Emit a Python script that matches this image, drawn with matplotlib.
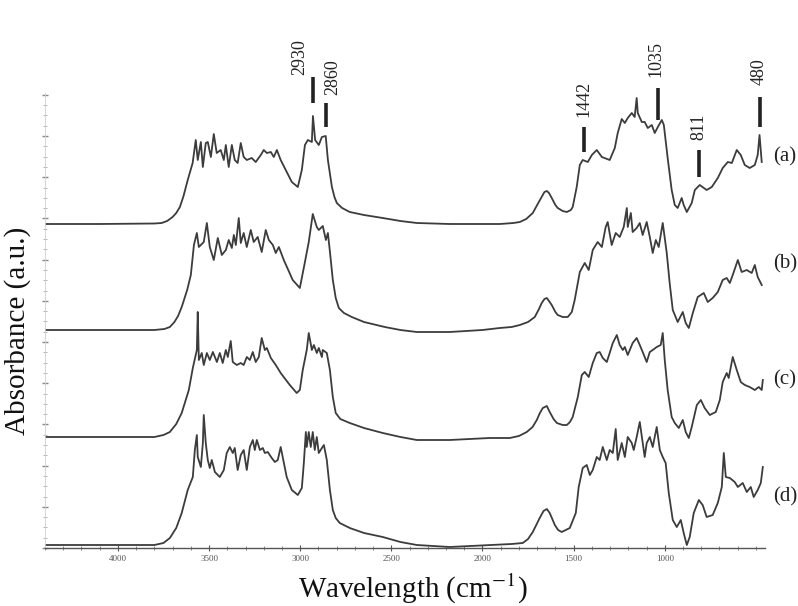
import numpy as np
import matplotlib.pyplot as plt
from matplotlib.ticker import MultipleLocator, FixedLocator

plt.rcParams['font.family'] = ['Liberation Serif', 'DejaVu Serif']
plt.rcParams['mathtext.fontset'] = 'stix'

# FTIR spectra, wavenumber (cm-1) vs absorbance above each trace's own baseline
wn_a = [4400, 4100, 3800, 3760, 3730, 3700, 3680, 3660, 3640, 3617, 3590, 3573, 3562, 3545, 3534,
        3518, 3507, 3490, 3474, 3458, 3436, 3419, 3408, 3392, 3375, 3359, 3343, 3326, 3310, 3293,
        3266, 3244, 3216, 3200, 3183, 3161, 3145, 3128, 3107, 3079, 3046, 3013, 2991, 2974, 2958,
        2936, 2930, 2918, 2898, 2881, 2860, 2848, 2826, 2812, 2799, 2770, 2728, 2650, 2547, 2450,
        2360, 2180, 2000, 1905, 1830, 1795, 1760, 1724, 1700, 1675, 1660, 1647, 1635, 1620, 1600,
        1587, 1560, 1537, 1515, 1505, 1483, 1466, 1450, 1422, 1400, 1373, 1345, 1302, 1274, 1258,
        1236, 1219, 1203, 1181, 1165, 1154, 1148, 1126, 1110, 1093, 1071, 1055, 1038, 1016, 1005,
        984, 962, 945, 929, 907, 896, 879, 852, 835, 808, 770, 742, 709, 682, 654, 632, 605, 583,
        561, 534, 506, 490, 480, 468]
abs_a = [0.0, 0.0, 0.005, 0.01, 0.03, 0.07, 0.11, 0.17, 0.28, 0.44, 0.61, 0.84, 0.64, 0.82, 0.57,
         0.81, 0.82, 0.67, 0.90, 0.71, 0.74, 0.64, 0.79, 0.57, 0.79, 0.64, 0.61, 0.81, 0.67, 0.64,
         0.66, 0.62, 0.69, 0.74, 0.71, 0.72, 0.67, 0.74, 0.64, 0.54, 0.42, 0.37, 0.54, 0.79, 0.84,
         0.82, 1.08, 0.84, 0.79, 0.87, 0.88, 0.64, 0.37, 0.27, 0.21, 0.16, 0.12, 0.09, 0.06, 0.03,
         0.01, 0.0, 0.0, 0.0, 0.01, 0.02, 0.05, 0.11, 0.19, 0.27, 0.32, 0.33, 0.31, 0.26, 0.19,
         0.16, 0.13, 0.12, 0.14, 0.17, 0.37, 0.59, 0.64, 0.62, 0.69, 0.74, 0.67, 0.64, 0.76, 0.91,
         1.05, 1.01, 1.06, 1.11, 1.07, 1.26, 1.11, 1.02, 1.02, 0.96, 0.99, 0.91, 0.97, 1.04, 0.99,
         0.66, 0.34, 0.19, 0.16, 0.26, 0.19, 0.12, 0.21, 0.34, 0.39, 0.34, 0.37, 0.46, 0.56, 0.62,
         0.61, 0.74, 0.69, 0.59, 0.56, 0.59, 0.69, 0.89, 0.62]

wn_b = [4400, 3800, 3745, 3715, 3690, 3670, 3650, 3620, 3600, 3583, 3567, 3556, 3529, 3512, 3496,
        3474, 3452, 3430, 3408, 3392, 3375, 3364, 3353, 3337, 3326, 3310, 3293, 3271, 3255, 3233,
        3211, 3189, 3172, 3150, 3134, 3117, 3090, 3041, 3002, 2975, 2953, 2931, 2909, 2898, 2876,
        2859, 2848, 2835, 2821, 2805, 2788, 2760, 2717, 2650, 2536, 2450, 2360, 2180, 2000, 1905,
        1840, 1795, 1750, 1713, 1690, 1675, 1660, 1647, 1635, 1620, 1600, 1587, 1560, 1532, 1510,
        1494, 1466, 1439, 1417, 1395, 1368, 1345, 1324, 1313, 1291, 1269, 1247, 1225, 1208, 1203,
        1186, 1176, 1154, 1137, 1121, 1099, 1082, 1066, 1049, 1033, 1011, 989, 973, 956, 929, 901,
        885, 868, 846, 819, 786, 764, 737, 709, 682, 660, 643, 627, 599, 578, 550, 523, 506, 490,
        468]
abs_b = [0.0, 0.0, 0.01, 0.03, 0.08, 0.14, 0.23, 0.40, 0.55, 0.85, 0.97, 0.83, 0.88, 1.07, 0.83,
         0.70, 0.92, 0.75, 0.80, 0.90, 0.82, 0.95, 0.85, 1.12, 0.87, 0.97, 0.83, 1.00, 0.88, 0.93,
         0.78, 1.00, 0.90, 0.85, 0.77, 0.83, 0.70, 0.50, 0.42, 0.67, 0.88, 1.16, 1.03, 1.00, 1.04,
         0.90, 0.97, 0.75, 0.50, 0.32, 0.22, 0.17, 0.13, 0.08, 0.03, 0.0, -0.02, -0.02, 0.0, 0.02,
         0.03, 0.05, 0.08, 0.13, 0.21, 0.27, 0.31, 0.32, 0.29, 0.25, 0.18, 0.15, 0.13, 0.13, 0.18,
         0.30, 0.58, 0.67, 0.60, 0.80, 0.88, 0.83, 1.03, 1.08, 0.85, 0.97, 0.93, 1.03, 1.22, 1.03,
         1.17, 0.98, 1.02, 1.07, 0.95, 1.08, 0.93, 0.77, 0.90, 0.83, 1.07, 0.77, 0.47, 0.20, 0.08,
         0.18, 0.07, 0.02, 0.17, 0.33, 0.37, 0.28, 0.32, 0.38, 0.50, 0.52, 0.47, 0.55, 0.70, 0.58,
         0.60, 0.57, 0.65, 0.53, 0.45]

wn_c = [4400, 3800, 3750, 3715, 3680, 3650, 3611, 3589, 3567, 3562, 3556, 3540, 3529, 3512, 3496,
        3479, 3457, 3441, 3425, 3408, 3397, 3381, 3370, 3348, 3326, 3310, 3293, 3276, 3260, 3244,
        3227, 3211, 3194, 3183, 3161, 3134, 3107, 3057, 3019, 3002, 2986, 2964, 2953, 2936, 2925,
        2909, 2898, 2881, 2876, 2854, 2837, 2821, 2805, 2780, 2728, 2650, 2547, 2450, 2360, 2180,
        1960, 1850, 1800, 1757, 1725, 1702, 1685, 1669, 1647, 1631, 1610, 1592, 1560, 1537, 1520,
        1505, 1477, 1455, 1439, 1417, 1395, 1373, 1357, 1340, 1318, 1302, 1285, 1263, 1247, 1230,
        1219, 1203, 1176, 1154, 1137, 1121, 1099, 1082, 1066, 1044, 1022, 1011, 1000, 984, 962, 945,
        923, 901, 885, 868, 852, 824, 802, 781, 753, 720, 698, 682, 660, 649, 627, 605, 583, 561,
        534, 506, 484, 468, 462]
abs_c = [0.0, 0.0, 0.02, 0.05, 0.13, 0.24, 0.47, 0.69, 0.87, 1.25, 0.77, 0.84, 0.72, 0.84, 0.77,
         0.85, 0.75, 0.84, 0.74, 0.87, 0.80, 0.96, 0.75, 0.72, 0.74, 0.72, 0.80, 0.77, 0.85, 0.75,
         0.80, 0.99, 0.87, 0.89, 0.79, 0.72, 0.64, 0.52, 0.44, 0.47, 0.67, 0.87, 1.04, 0.87, 0.92,
         0.84, 0.89, 0.80, 0.87, 0.84, 0.67, 0.40, 0.24, 0.18, 0.14, 0.09, 0.04, 0.0, -0.03, -0.03,
         -0.01, -0.01, 0.01, 0.05, 0.10, 0.17, 0.24, 0.29, 0.31, 0.25, 0.18, 0.14, 0.12, 0.12, 0.15,
         0.20, 0.40, 0.62, 0.65, 0.60, 0.74, 0.84, 0.85, 0.79, 0.75, 0.84, 0.94, 1.02, 0.92, 0.87,
         0.90, 0.82, 0.94, 0.99, 0.92, 0.85, 0.75, 0.85, 0.87, 0.90, 0.92, 1.04, 0.77, 0.47, 0.20,
         0.14, 0.09, 0.17, 0.05, -0.01, 0.10, 0.32, 0.37, 0.29, 0.22, 0.25, 0.37, 0.55, 0.64, 0.59,
         0.80, 0.67, 0.55, 0.52, 0.50, 0.47, 0.50, 0.47, 0.57]

wn_d = [4400, 3800, 3750, 3715, 3680, 3650, 3617, 3589, 3578, 3567, 3562, 3545, 3534, 3529, 3518,
        3507, 3496, 3485, 3468, 3441, 3419, 3403, 3386, 3370, 3359, 3343, 3326, 3310, 3293, 3276,
        3260, 3249, 3238, 3221, 3205, 3194, 3178, 3156, 3139, 3123, 3107, 3095, 3074, 3046, 3013,
        2991, 2980, 2969, 2964, 2953, 2942, 2931, 2920, 2909, 2898, 2881, 2870, 2854, 2837, 2821,
        2805, 2783, 2728, 2650, 2547, 2450, 2360, 2180, 1960, 1840, 1779, 1750, 1724, 1705, 1686,
        1665, 1647, 1631, 1615, 1603, 1585, 1565, 1521, 1488, 1472, 1450, 1428, 1411, 1395, 1373,
        1357, 1340, 1318, 1302, 1285, 1269, 1258, 1236, 1219, 1203, 1181, 1170, 1154, 1137, 1121,
        1110, 1099, 1082, 1066, 1044, 1027, 1011, 995, 978, 956, 934, 912, 896, 879, 863, 841, 813,
        792, 770, 737, 709, 687, 676, 665, 643, 616, 599, 572, 550, 528, 512, 490, 473, 462]
abs_d = [0.0, 0.0, 0.02, 0.07, 0.17, 0.32, 0.55, 0.68, 0.95, 1.10, 0.88, 0.78, 1.02, 1.30, 1.02,
         0.85, 0.77, 0.85, 0.73, 0.68, 0.75, 0.92, 0.98, 0.92, 0.97, 0.75, 0.90, 0.95, 0.75, 0.98,
         1.05, 0.95, 1.05, 0.95, 0.97, 0.92, 0.93, 0.87, 0.83, 0.85, 0.98, 0.87, 0.68, 0.55, 0.50,
         0.57, 0.82, 1.13, 0.98, 1.13, 0.98, 1.13, 0.95, 1.08, 0.92, 0.97, 1.00, 0.85, 0.55, 0.35,
         0.27, 0.22, 0.17, 0.12, 0.08, 0.03, 0.0, -0.02, 0.0, 0.01, 0.02, 0.06, 0.13, 0.20, 0.27,
         0.34, 0.36, 0.32, 0.25, 0.20, 0.15, 0.13, 0.17, 0.32, 0.58, 0.77, 0.80, 0.70, 0.75, 0.88,
         0.85, 0.98, 0.85, 0.95, 0.92, 1.16, 0.85, 1.02, 0.88, 1.08, 1.02, 0.95, 1.08, 1.23, 1.02,
         0.88, 1.02, 1.08, 0.98, 1.18, 0.95, 0.88, 0.82, 0.52, 0.25, 0.18, 0.25, 0.12, 0.0, 0.08,
         0.32, 0.45, 0.40, 0.28, 0.30, 0.42, 0.58, 0.92, 0.68, 0.67, 0.63, 0.58, 0.62, 0.53, 0.58,
         0.48, 0.55, 0.62, 0.78]

samples = ['(a)', '(b)', '(c)', '(d)']
offsets = [3.24, 2.18, 1.11, 0.03]
label_y = [3.91, 2.84, 1.68, 0.51]

# assigned bands marked over trace (a)
peaks = [2930, 2860, 1442, 1035, 811, 480]
mark_lo = [4.45, 4.21, 3.96, 4.28, 3.71, 4.21]
mark_hi = [4.71, 4.45, 4.21, 4.60, 3.98, 4.51]
text_dx = [-13, 7, 0, -2, 0, 0]
text_gap = [2, 8, 10, 11, 10, 12]

fig = plt.figure(figsize=(7.98, 6.06), dpi=100)
ax = fig.add_axes([45 / 798, 58 / 606, 720 / 798, 455 / 606])

line_col = '#3c3c3c'
spectra = [(wn_a, abs_a), (wn_b, abs_b), (wn_c, abs_c), (wn_d, abs_d)]
for (wn, ab), off, name, ly in zip(spectra, offsets, samples, label_y):
    ax.plot(wn, np.array(ab) + off, color=line_col, lw=1.3)
    ax.text(1.011, ly, name, transform=ax.get_yaxis_transform(), fontsize=15,
            ha='left', va='center', color='#222222', clip_on=False)

for p, lo, hi, dx, gap in zip(peaks, mark_lo, mark_hi, text_dx, text_gap):
    ax.plot([p, p], [lo, hi], color='#222222', lw=2.6, solid_capstyle='butt', clip_on=False)
    ax.annotate(str(p), xy=(p, hi), xytext=(dx, gap), textcoords='offset pixels',
                rotation=90, ha='center', va='bottom', fontsize=13, color='#222222',
                annotation_clip=False)

ax.set_xlim(4400, 450)
ax.set_ylim(0, 4.55)

for side in ['top', 'right']:
    ax.spines[side].set_visible(False)
ax.spines['bottom'].set_color('#555555')
ax.spines['bottom'].set_linewidth(1.0)
ax.spines['left'].set_color('#d0d0d0')
ax.spines['left'].set_linewidth(0.6)

ax.xaxis.set_major_locator(FixedLocator([4000, 3500, 3000, 2500, 2000, 1500, 1000]))
ax.xaxis.set_minor_locator(MultipleLocator(100))
ax.tick_params(axis='x', which='major', direction='inout', length=4, width=0.8,
               colors='#555555', labelsize=6.5, pad=3)
ax.tick_params(axis='x', which='minor', direction='inout', length=2.5, width=0.6, colors='#777777')

ax.yaxis.set_major_locator(MultipleLocator(0.412))
ax.yaxis.set_minor_locator(MultipleLocator(0.103))
ax.tick_params(axis='y', which='major', direction='inout', length=4, width=1.0,
               colors='#888888', labelleft=False)
ax.tick_params(axis='y', which='minor', direction='inout', length=2.5, width=0.6,
               colors='#aaaaaa')

fig.text(18 / 798, 1 - 331 / 606, 'Absorbance (a.u.)', rotation=90, fontsize=21,
         ha='center', va='center', color='#111111')
fig.text(413 / 798, 1 - 589 / 606, 'Wavelength (cm$^{-1}$)', fontsize=21,
         ha='center', va='center', color='#111111')

fig.savefig('out.png', dpi=100, facecolor='white')
